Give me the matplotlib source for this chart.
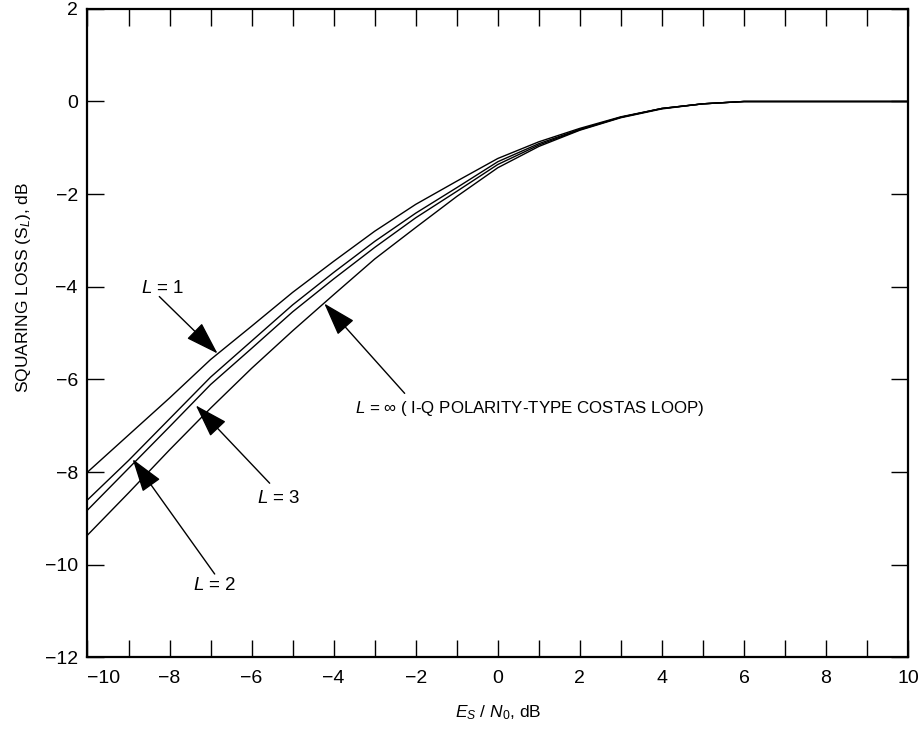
import matplotlib
matplotlib.use("Agg")
import matplotlib.pyplot as plt
from matplotlib.ticker import MultipleLocator

plt.rcParams['font.family'] = ['Liberation Sans', 'DejaVu Sans']
plt.rcParams['mathtext.fontset'] = 'custom'
plt.rcParams['mathtext.rm'] = 'Liberation Sans'
plt.rcParams['mathtext.it'] = 'Liberation Sans:italic'

# Es/N0 en dB
es_n0 = [-10, -9, -8, -7, -6, -5, -4, -3, -2, -1, 0, 1, 2, 3, 4, 5, 6, 7, 8, 9, 10]

# pertes de quadrature (dB) pour chaque L
loss_L1 = [-8.00, -7.20, -6.40, -5.57, -4.85, -4.12, -3.45, -2.80, -2.22, -1.72, -1.23,
           -0.87, -0.58, -0.33, -0.15, -0.05, 0.0, 0.0, 0.0, 0.0, 0.0]
loss_L2 = [-8.60, -7.75, -6.85, -5.95, -5.17, -4.39, -3.69, -3.02, -2.41, -1.86, -1.30,
           -0.91, -0.60, -0.34, -0.15, -0.05, 0.0, 0.0, 0.0, 0.0, 0.0]
loss_L3 = [-8.82, -7.92, -7.02, -6.11, -5.33, -4.54, -3.83, -3.15, -2.51, -1.94, -1.36,
           -0.94, -0.61, -0.34, -0.15, -0.05, 0.0, 0.0, 0.0, 0.0, 0.0]
loss_Linf = [-9.36, -8.45, -7.52, -6.62, -5.76, -4.95, -4.17, -3.40, -2.72, -2.05, -1.43,
             -0.97, -0.62, -0.35, -0.16, -0.05, 0.0, 0.0, 0.0, 0.0, 0.0]

# graduations
x_ticks = [-10, -8, -6, -4, -2, 0, 2, 4, 6, 8, 10]
x_tick_labels = ['\u221210', '\u22128', '\u22126', '\u22124', '\u22122', '0', '2', '4', '6', '8', '10']

fig = plt.figure(figsize=(9.21, 7.37), dpi=100)
ax = fig.add_axes([0.095, 0.108, 0.891, 0.880])

for courbe in (loss_L1, loss_L2, loss_L3, loss_Linf):
    ax.plot(es_n0, courbe, color='black', lw=1.0)

ax.set_xlim(-10, 10)
ax.set_ylim(-12, 2)
ax.set_xticks(x_ticks, x_tick_labels)
ax.xaxis.set_minor_locator(MultipleLocator(1))
ax.yaxis.set_major_locator(MultipleLocator(2))
ax.tick_params(which='both', direction='in', length=12.5, width=1.0,
               top=True, right=True, labelsize=14)
ax.tick_params(axis='x', which='major', pad=9)
ax.tick_params(axis='y', which='major', pad=7)
for sp in ax.spines.values():
    sp.set_linewidth(1.6)

# la premiere etiquette est rentree vers l'interieur
ax.get_xticklabels()[0].set_horizontalalignment('left')

ax.set_xlabel(r'$\mathit{E_S}$ / $\mathit{N}_0$, dB', fontsize=12.5, labelpad=12)
ax.set_ylabel(r'SQUARING LOSS (S$_\mathit{L}$), dB', fontsize=12.5)
ax.yaxis.set_label_coords(-0.066, 0.571)

# annotations avec fleches
fleche = dict(arrowstyle='-|>,head_length=2.1,head_width=0.68', mutation_scale=10,
              color='black', lw=1.0, shrinkA=0, shrinkB=0)

ax.annotate('', xy=(-6.83, -5.44), xytext=(-8.25, -4.21), arrowprops=fleche)
ax.text(-8.18, -4.03, r'$\mathit{L}$ = 1', fontsize=13.5, ha='center', va='center')

ax.annotate('', xy=(-8.90, -7.72), xytext=(-6.90, -10.20), arrowprops=fleche)
ax.text(-6.90, -10.44, r'$\mathit{L}$ = 2', fontsize=13.5, ha='center', va='center')

ax.annotate('', xy=(-7.36, -6.56), xytext=(-5.56, -8.24), arrowprops=fleche)
ax.text(-5.34, -8.58, r'$\mathit{L}$ = 3', fontsize=13.5, ha='center', va='center')

ax.annotate('', xy=(-4.23, -4.36), xytext=(-2.27, -6.30), arrowprops=fleche)
ax.text(-3.48, -6.63, r'$\mathit{L}$ = ∞ ( I-Q POLARITY-TYPE COSTAS LOOP)',
        fontsize=12.2, ha='left', va='center')

fig.savefig('out.png', dpi=100)
